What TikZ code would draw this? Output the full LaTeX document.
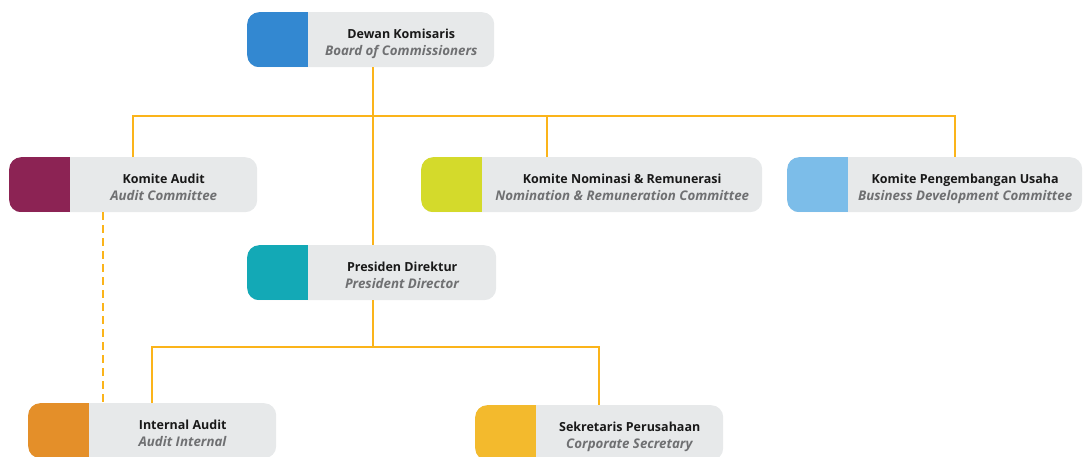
\documentclass[tikz,border=0pt]{standalone}
\usepackage{fontspec}
\setmainfont{Open Sans}
\definecolor{linkcol}{HTML}{FBB41A}
\definecolor{boxgray}{HTML}{E7E9EA}
\definecolor{subgray}{HTML}{6F7072}
\definecolor{dkblue}{HTML}{3388D1}
\definecolor{kamaroon}{HTML}{8C2354}
\definecolor{knlime}{HTML}{D4DA2B}
\definecolor{kpsky}{HTML}{7CBDE9}
\definecolor{pdteal}{HTML}{13A9B6}
\definecolor{iaorange}{HTML}{E48F29}
\definecolor{spyellow}{HTML}{F3BA2D}
\tikzset{
  unit/.style={fill=boxgray, rounded corners=12pt, anchor=north west,
    minimum height=55pt, inner sep=0pt, text height=26pt, text depth=29pt,
    text=black!90, font=\fontsize{12.5}{17}\selectfont,
    path picture={\fill[#1, sharp corners] (path picture bounding box.south west)
      rectangle ([xshift=61pt]path picture bounding box.north west);}},
  link/.style={draw=linkcol, line width=2.5pt}
}
\newcommand{\unittext}[2]{\hspace*{61pt}\begin{tabular}[t]{@{}c@{}}\textbf{#1}\\
  \fontsize{13.3}{17}\selectfont\textcolor{subgray}{\textbf{\textit{#2}}}\end{tabular}}
\begin{document}
\begin{tikzpicture}[x=1pt,y=-1pt]
  \useasboundingbox (0,0) rectangle (1084,456);
  \node[unit=dkblue, minimum width=247pt] (dk) at (247,12)
    {\unittext{Dewan Komisaris}{Board of Commissioners}};
  \node[unit=kamaroon, minimum width=248pt] (ka) at (9,157)
    {\unittext{Komite Audit}{Audit Committee}};
  \node[unit=knlime, minimum width=341pt] (kn) at (421,157)
    {\unittext{Komite Nominasi \& Remunerasi}{Nomination \& Remuneration Committee}};
  \node[unit=kpsky, minimum width=295pt] (kp) at (787,157)
    {\unittext{Komite Pengembangan Usaha}{Business Development Committee}};
  \node[unit=pdteal, minimum width=249pt] (pd) at (247,245)
    {\unittext{Presiden Direktur}{President Director}};
  \node[unit=iaorange, minimum width=248pt] (ia) at (28,403)
    {\unittext{Internal Audit}{Audit Internal}};
  \node[unit=spyellow, minimum width=248pt] (sp) at (475,405)
    {\unittext{Sekretaris Perusahaan}{Corporate Secretary}};
  \coordinate (bus1) at (373,116);
  \coordinate (bus2) at (373,347);
  \coordinate (kn-in) at (547,157);
  \coordinate (kp-in) at (955,157);
  \coordinate (dashx) at (103,0);
  \begin{scope}[link]
    \draw (dk.south -| bus1) -- (pd.north -| bus1);
    \draw (ka.north) |- (bus1) -| (kp-in);
    \draw (kn-in) -- (kn-in |- bus1);
    \draw (pd.south -| bus2) -- (bus2);
    \draw (ia.north) |- (bus2) -| (sp.north);
    \draw[dash pattern=on 8pt off 5pt] (ka.south -| dashx) -- (ia.north -| dashx);
  \end{scope}
\end{tikzpicture}
\end{document}
